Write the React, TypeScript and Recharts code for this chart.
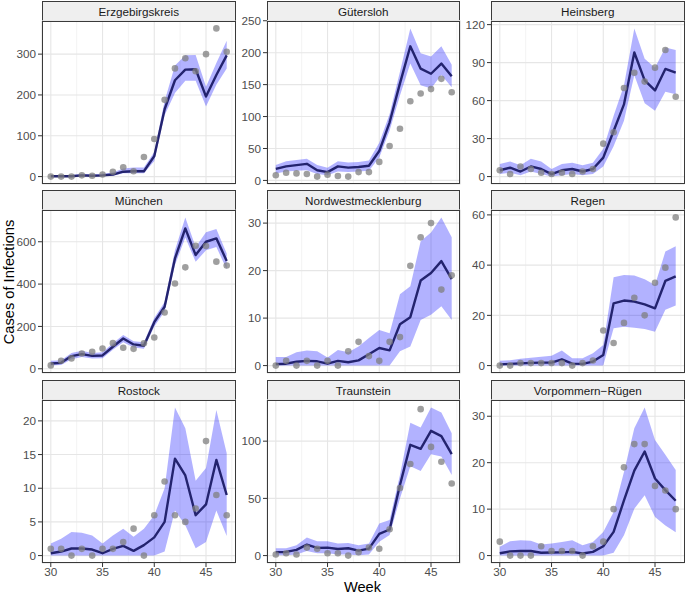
import React from 'react';
import { ComposedChart, Line, Area, Scatter, XAxis, YAxis, CartesianGrid } from 'recharts';

const weeks = [30, 31, 32, 33, 34, 35, 36, 37, 38, 39, 40, 41, 42, 43, 44, 45, 46, 47];
const weekTicks = [30, 35, 40, 45];
const weekMinorTicks = [32.5, 37.5, 42.5, 47.5];

// Erzgebirgskreis
const erzObserved = [0, 0, 0, 3, 2, 5, 12, 23, 13, 48, 92, 188, 265, 290, 258, 300, 363, 306];
const erzMedian = [1, 1, 1, 3, 2, 3, 5, 12, 13, 13, 50, 165, 236, 262, 263, 196, 249, 297];
const erzLower = [0, 0, 0, 1, 0, 1, 2, 8, 8, 8, 38, 150, 205, 235, 235, 172, 225, 265];
const erzUpper = [3, 3, 4, 7, 6, 7, 10, 20, 22, 22, 60, 185, 272, 297, 298, 220, 278, 333];
const erzTicks = [0, 100, 200, 300];

// Gütersloh
const gueObserved = [8, 12, 11, 10, 6, 9, 7, 6, 13, 13, 29, 54, 81, 124, 136, 143, 159, 138];
const gueMedian = [18, 22, 24, 26, 16, 13, 22, 20, 21, 23, 46, 91, 152, 210, 175, 167, 183, 163];
const gueLower = [11, 14, 15, 16, 10, 8, 14, 13, 14, 15, 36, 78, 133, 183, 149, 144, 165, 146];
const gueUpper = [24, 30, 32, 34, 24, 20, 30, 28, 29, 31, 59, 104, 170, 238, 199, 194, 210, 181];
const gueTicks = [0, 50, 100, 150, 200, 250];

// Heinsberg
const heiObserved = [5, 2, 8, 6, 3, 2, 3, 2, 4, 6, 26, 35, 70, 82, 75, 86, 100, 63];
const heiMedian = [5, 7, 4, 8, 6, 2, 5, 6, 4, 6, 15, 36, 57, 98, 76, 68, 85, 82];
const heiLower = [2, 3, 1, 4, 2, 0, 1, 2, 1, 2, 8, 24, 44, 80, 58, 52, 67, 65];
const heiUpper = [10, 12, 9, 14, 12, 6, 10, 11, 9, 11, 22, 48, 72, 117, 93, 86, 102, 100];
const heiTicks = [0, 30, 60, 90, 120];

// München
const munObserved = [16, 38, 49, 72, 80, 96, 121, 99, 94, 120, 148, 266, 403, 479, 581, 580, 506, 488];
const munMedian = [25, 28, 60, 69, 61, 63, 104, 143, 115, 109, 220, 293, 521, 663, 537, 600, 616, 509];
const munLower = [15, 18, 45, 55, 48, 50, 90, 125, 100, 95, 200, 270, 490, 620, 505, 560, 575, 470];
const munUpper = [38, 40, 75, 85, 75, 78, 120, 160, 130, 125, 240, 315, 560, 715, 575, 645, 660, 545];
const munTicks = [0, 200, 400, 600];

// Nordwestmecklenburg
const nwmObserved = [0, 1, 0, 1, 0, 1, 0, 3, 5, 2, 1, 5, 6, 21, 27, 30, 16, 19];
const nwmMedian = [0.3, 0.4, 0.8, 1.0, 0.9, 0.4, 1.0, 0.7, 1.1, 2.4, 3.7, 3.2, 8.7, 10.2, 17.9, 19.5, 22, 18.2];
const nwmLower = [0, 0, 0, 0, 0, 0, 0, 0, 0, 0, 0, 0, 3, 4, 9.6, 10.7, 12.5, 9.6];
const nwmUpper = [1.8, 1.8, 2.8, 3.2, 3, 1.7, 3.3, 2.8, 4, 5.8, 7.5, 6.8, 15, 16.7, 26.2, 28, 31.2, 27];
const nwmTicks = [0, 10, 20, 30];

// Regen
const regObserved = [0, 0, 1, 1, 1, 1, 1, 0, 1, 2, 14, 9, 17, 27, 20, 33, 39, 59];
const regMedian = [0.5, 0.7, 0.9, 1.1, 1.2, 1.2, 2.5, 0.8, 0.7, 1.6, 4.2, 24.8, 25.9, 25.5, 24.4, 22.8, 33.7, 35.5];
const regLower = [0, 0, 0, 0, 0, 0, 0, 0, 0, 0, 0, 14.9, 15.5, 15.1, 14.6, 13.5, 22.2, 23.9];
const regUpper = [1.9, 2.1, 2.7, 3.1, 3.5, 3.9, 6, 2.9, 2.9, 4.9, 8.2, 35.2, 36.1, 35.9, 34.4, 32.1, 45.4, 47.5];
const regTicks = [0, 20, 40, 60];

// Rostock
const rosObserved = [1, 1, 0, 1, 0, 1, 1, 2, 4, 0, 6, 11, 6, 5, 7, 17, 9, 6];
const rosMedian = [0.35, 0.6, 1.05, 1.05, 0.9, 0.35, 1.0, 1.45, 0.7, 1.55, 2.7, 5, 14.4, 11.9, 6, 7.6, 14.2, 9];
const rosLower = [0, 0, 0, 0, 0, 0, 0, 0, 0, 0, 0, 0.6, 6.7, 4.5, 1.1, 2, 6.7, 2.9];
const rosUpper = [1.8, 2.5, 3.5, 3.4, 3.0, 1.8, 3, 4, 2.8, 4, 6, 10, 22, 18.9, 11.1, 13, 21.6, 15.2];
const rosTicks = [0, 5, 10, 15, 20];

// Traunstein
const trnObserved = [1, 2, 1, 7, 6, 2, 2, 0, 3, 7, 6, 23, 59, 80, 128, 95, 82, 63];
const trnMedian = [3, 3.2, 5, 9.6, 6.7, 7, 5.8, 6.4, 4.4, 6.1, 19, 22.8, 61.7, 96.8, 93.3, 109, 104.4, 88.6];
const trnLower = [0.3, 0.3, 1, 4, 2, 2, 1, 1, 0.3, 1, 12, 18, 50, 78, 74, 88.6, 86.5, 70.5];
const trnUpper = [6.4, 6.4, 9, 15.8, 12.6, 12.6, 10.5, 11, 9, 10.5, 28, 31, 70.5, 116, 112, 129.5, 125, 107];
const trnTicks = [0, 50, 100];

// Vorpommern-Rügen
const vorObserved = [3, 0, 0, 0, 2, 1, 1, 1, 0, 2, 3, 10, 19, 24, 24, 15, 14, 10];
const vorMedian = [0.5, 0.9, 1, 1, 0.6, 0.65, 0.7, 0.8, 0.45, 0.8, 2, 5.1, 11.9, 18.3, 22.4, 16.6, 14.1, 11.8];
const vorLower = [0, 0, 0, 0, 0, 0, 0, 0, 0, 0, 0, 0.6, 4.4, 10.1, 13, 8.3, 6.5, 5];
const vorUpper = [1.9, 3.1, 3.3, 3.2, 2.4, 2.6, 2.9, 3.3, 2.2, 2.9, 5.1, 9.4, 18, 27.4, 31.9, 24.9, 21.7, 18.4];
const vorTicks = [0, 10, 20, 30];

const districtNames = [
  'Erzgebirgskreis', 'Gütersloh', 'Heinsberg',
  'München', 'Nordwestmecklenburg', 'Regen',
  'Rostock', 'Traunstein', 'Vorpommern−Rügen',
];

type Series = { name: string; observed: number[]; median: number[]; lower: number[]; upper: number[]; ticks: number[] };

const series: Series[] = [
  { name: districtNames[0], observed: erzObserved, median: erzMedian, lower: erzLower, upper: erzUpper, ticks: erzTicks },
  { name: districtNames[1], observed: gueObserved, median: gueMedian, lower: gueLower, upper: gueUpper, ticks: gueTicks },
  { name: districtNames[2], observed: heiObserved, median: heiMedian, lower: heiLower, upper: heiUpper, ticks: heiTicks },
  { name: districtNames[3], observed: munObserved, median: munMedian, lower: munLower, upper: munUpper, ticks: munTicks },
  { name: districtNames[4], observed: nwmObserved, median: nwmMedian, lower: nwmLower, upper: nwmUpper, ticks: nwmTicks },
  { name: districtNames[5], observed: regObserved, median: regMedian, lower: regLower, upper: regUpper, ticks: regTicks },
  { name: districtNames[6], observed: rosObserved, median: rosMedian, lower: rosLower, upper: rosUpper, ticks: rosTicks },
  { name: districtNames[7], observed: trnObserved, median: trnMedian, lower: trnLower, upper: trnUpper, ticks: trnTicks },
  { name: districtNames[8], observed: vorObserved, median: vorMedian, lower: vorLower, upper: vorUpper, ticks: vorTicks },
];

const FONT = '"Liberation Sans", Arial, Helvetica, sans-serif';
const COL_LEFT = [42, 266.5, 491];
const ROW_TOP = [21, 210, 400];
const PW = 193.5;
const PH = 163;
const STRIP_H = 20;
const AXIS_W = 45;
const PAD = 8;
const X_DOMAIN: [number, number] = [29.15, 47.85];

function Panel({ s, left, top, showX }: { s: Series; left: number; top: number; showX: boolean }) {
  const data = weeks.map((w, i) => ({
    week: w,
    obs: s.observed[i],
    med: s.median[i],
    band: [s.lower[i], s.upper[i]],
  }));
  const all = [...s.observed, ...s.median, ...s.lower, ...s.upper];
  const mn = Math.min(...all);
  const mx = Math.max(...all);
  const pad = (mx - mn) * 0.05;
  const yDomain: [number, number] = [mn - pad, mx + pad];
  const step = s.ticks[1] - s.ticks[0];
  const minor = [s.ticks[0] - step / 2, ...s.ticks.map((t) => t + step / 2)].filter(
    (v) => v > yDomain[0] && v < yDomain[1]
  );
  const xAxisH = showX ? 24 : 0;
  return (
    <>
      <div
        style={{
          position: 'absolute',
          left,
          top: top - STRIP_H,
          width: PW,
          height: STRIP_H + 1,
          boxSizing: 'border-box',
          border: '1px solid #3a3a3a',
          background: '#efefef',
          color: '#1a1a1a',
          fontSize: 11.7,
          lineHeight: `${STRIP_H - 1}px`,
          textAlign: 'center',
        }}
      >
        {s.name}
      </div>
      <div style={{ position: 'absolute', left: left - AXIS_W, top: top - PAD }}>
        <ComposedChart
          width={AXIS_W + PW + 2}
          height={PH + xAxisH + 2 * PAD}
          data={data}
          margin={{ top: PAD, right: 2, bottom: PAD, left: 0 }}
        >
          <XAxis xAxisId="minor" type="number" dataKey="week" domain={X_DOMAIN} ticks={weekMinorTicks} hide />
          <YAxis yAxisId="minor" type="number" domain={yDomain} ticks={minor} hide />
          <CartesianGrid xAxisId="minor" yAxisId="minor" stroke="#ebebeb" strokeWidth={0.6} />
          <CartesianGrid stroke="#e6e6e6" strokeWidth={1.1} />
          <XAxis
            type="number"
            dataKey="week"
            domain={X_DOMAIN}
            ticks={weekTicks}
            interval={0}
            hide={!showX}
            height={xAxisH}
            axisLine={false}
            tickLine={{ stroke: '#333333' }}
            tickSize={4}
            tickMargin={1}
            tick={{ fill: '#4d4d4d', fontSize: 11.7 }}
          />
          <YAxis
            type="number"
            domain={yDomain}
            ticks={s.ticks}
            interval={0}
            width={AXIS_W}
            axisLine={false}
            tickLine={{ stroke: '#333333' }}
            tickSize={4}
            tickMargin={2}
            tick={{ fill: '#4d4d4d', fontSize: 11.7 }}
          />
          <Scatter
            dataKey="obs"
            isAnimationActive={false}
            shape={(p: any) => <circle cx={p.cx} cy={p.cy} r={3.3} fill="#7f7f7f" fillOpacity={0.75} />}
          />
          <Area
            dataKey="band"
            type="linear"
            stroke="none"
            fill="#0000ff"
            fillOpacity={0.3}
            isAnimationActive={false}
          />
          <Line
            dataKey="med"
            type="linear"
            stroke="#23236e"
            strokeWidth={2.4}
            strokeLinejoin="round"
            dot={false}
            isAnimationActive={false}
          />
        </ComposedChart>
      </div>
      <div
        style={{
          position: 'absolute',
          left,
          top,
          width: PW,
          height: PH,
          boxSizing: 'border-box',
          border: '1px solid #3a3a3a',
          pointerEvents: 'none',
        }}
      />
    </>
  );
}

export default function App() {
  return (
    <div
      style={{
        position: 'absolute',
        left: 0,
        top: 0,
        width: 685,
        height: 596,
        background: '#ffffff',
        fontFamily: FONT,
        overflow: 'hidden',
      }}
    >
      {series.map((s, i) => {
        const r = Math.floor(i / 3);
        const c = i % 3;
        return <Panel key={s.name} s={s} left={COL_LEFT[c]} top={ROW_TOP[r]} showX={r === 2} />;
      })}
      <div
        style={{
          position: 'absolute',
          left: 9,
          top: 282,
          transform: 'translate(-50%, -50%) rotate(-90deg)',
          whiteSpace: 'nowrap',
          fontSize: 14.67,
          color: '#000',
        }}
      >
        Cases of Infections
      </div>
      <div
        style={{
          position: 'absolute',
          left: 362.5,
          top: 587,
          transform: 'translate(-50%, -50%)',
          whiteSpace: 'nowrap',
          fontSize: 14.67,
          color: '#000',
        }}
      >
        Week
      </div>
    </div>
  );
}
